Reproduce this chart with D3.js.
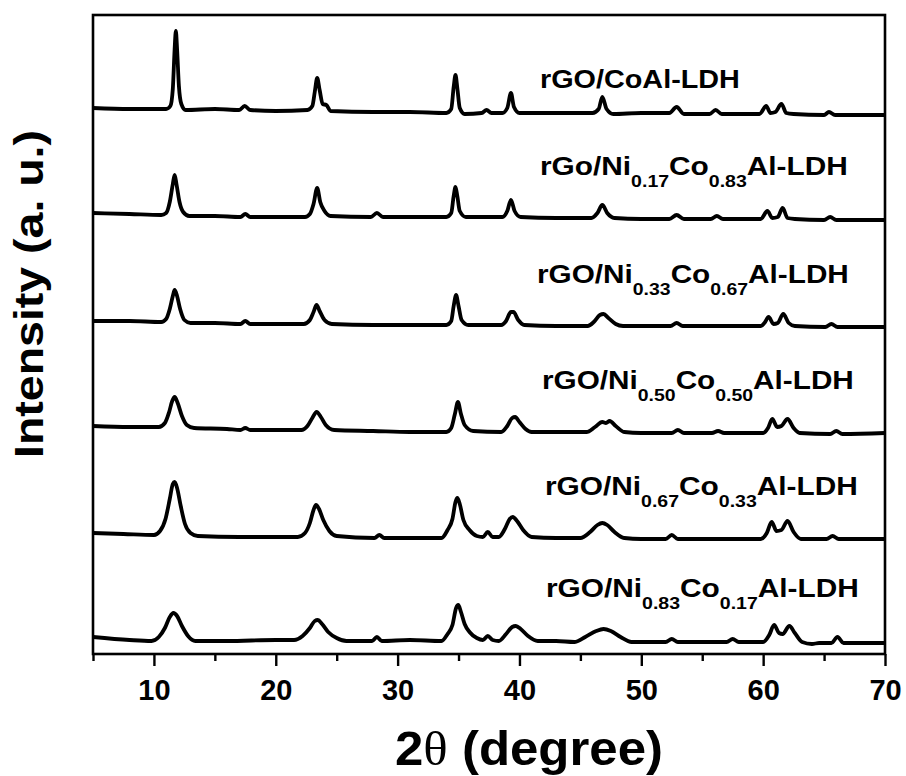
<!DOCTYPE html>
<html>
<head>
<meta charset="utf-8">
<script src="https://cdn.jsdelivr.net/npm/d3@7"></script>
<style>
  html, body { margin: 0; padding: 0; background: #fff; }
  svg { display: block; }
  text { font-family: "Liberation Sans", Arial, Helvetica, sans-serif; font-weight: bold; fill: #000; }
</style>
</head>
<body>
<svg id="chart" width="906" height="776"></svg>
<script>
// ---------------- DATA ----------------
// 2θ range and x tick labels
const xDomain = [5, 70];
const xMajorTicks = [10, 20, 30, 40, 50, 60, 70];
const xMinorTicks = [5, 15, 25, 35, 45, 55, 65];

// Series names (top to bottom); each label: [main, sub, main, sub, main]
const seriesLabels = [
  ["rGO/CoAl-LDH"],
  ["rGo/Ni", "0.17", "Co", "0.83", "Al-LDH"],
  ["rGO/Ni", "0.33", "Co", "0.67", "Al-LDH"],
  ["rGO/Ni", "0.50", "Co", "0.50", "Al-LDH"],
  ["rGO/Ni", "0.67", "Co", "0.33", "Al-LDH"],
  ["rGO/Ni", "0.83", "Co", "0.17", "Al-LDH"]
];

// Stacked intensities (a. u.), [2θ, intensity]
const seriesCoAl = [
  [5,546],[8,545],[11.0,545],[11.35,548],[11.55,565],[11.7,605],[11.8,623],[11.9,605],[12.05,568],[12.25,550],[12.6,544],
  [15,545],[17.0,544],[17.45,548],[17.9,544],[20,543],[22.6,544],[23.0,548],[23.2,562],[23.4,576],[23.6,564],[23.85,550],[24.15,549],[24.5,543],
  [28,542],[31,542],[34.0,541],[34.4,545],[34.6,567],[34.75,579],[34.9,566],[35.1,546],[35.5,540],[36.9,541],[37.3,544],[37.7,541],
  [38.6,541],[39.0,546],[39.3,561],[39.55,547],[40.0,541],[43,541],[46.0,541],[46.5,545],[46.8,557],[47.15,545],[47.7,540],
  [50,541],[52.3,541],[52.9,547],[53.5,540],[55.6,540],[56.1,544],[56.6,540],[59.7,540],[60.25,548],[60.6,541],[61.0,542],[61.5,550],[61.9,541],[62.5,540],
  [65.0,539],[65.4,542],[65.9,539],[70,539]
];
const seriesNi017 = [
  [5,441],[8,440],[10.6,439],[11.0,441],[11.3,452],[11.55,470],[11.7,479],[11.85,470],[12.1,452],[12.4,442],[12.9,438],
  [15,438],[17.1,437],[17.5,440],[17.9,437],[20,437],[22.4,437],[22.8,440],[23.1,450],[23.4,466],[23.65,452],[24.0,443],[24.5,438],
  [27.8,437],[28.3,441],[28.8,437],[31,437],[34.0,437],[34.4,441],[34.6,458],[34.75,467],[34.9,458],[35.1,443],[35.6,437],
  [38.6,437],[39.0,443],[39.3,454],[39.6,443],[40.1,437],[43,436],[45.9,436],[46.4,441],[46.8,449],[47.2,441],[47.8,436],
  [50,435],[52.3,435],[52.9,439],[53.5,435],[55.7,435],[56.2,438],[56.7,435],[59.8,435],[60.35,443],[60.75,436],[61.2,437],[61.6,446],[62.0,436],[62.6,435],
  [65,434],[65.5,437],[66,434],[70,434]
];
const seriesNi033 = [
  [5,333],[8,333],[10.6,332],[11.0,335],[11.3,345],[11.55,358],[11.7,364],[11.9,358],[12.15,345],[12.5,334],[13.0,331],
  [15,331],[17.1,330],[17.5,333],[17.9,330],[20,330],[22.3,330],[22.8,334],[23.1,342],[23.35,349],[23.6,343],[24.0,334],[24.6,330],
  [28,329],[31,329],[34.0,329],[34.4,333],[34.6,348],[34.8,359],[35.0,348],[35.25,334],[35.8,329],
  [38.5,329],[38.9,333],[39.3,342],[39.5,342],[39.9,334],[40.4,329],[43,328],[45.6,328],[46.1,332],[46.6,339],[46.9,340],[47.3,336],[47.9,330],[48.5,328],
  [50,328],[52.4,328],[52.9,331],[53.4,328],[56,328],[59.8,328],[60.1,331],[60.45,337],[60.85,330],[61.2,331],[61.65,340],[62.1,331],[62.6,328],
  [65.1,327],[65.6,330],[66.1,327],[70,327]
];
const seriesNi050 = [
  [5,228],[8,227],[10.4,227],[10.9,231],[11.25,242],[11.5,253],[11.7,257],[11.95,251],[12.3,238],[12.7,229],[13.3,226],
  [16,225],[17.1,224],[17.5,226],[17.9,224],[20,224],[22.1,224],[22.6,228],[23.0,236],[23.35,242],[23.7,237],[24.1,229],[24.8,224],
  [28,223],[31,222],[34.0,222],[34.4,226],[34.7,240],[34.95,252],[35.2,240],[35.5,229],[36.2,223],
  [38.5,222],[39.0,228],[39.4,236],[39.65,237],[40.0,232],[40.5,225],[41.0,222],[43,222],[45.5,222],[46.2,227],[46.8,232],[47.1,231],[47.4,233],[47.9,228],[48.6,222],
  [50,221],[52.5,221],[53.0,224],[53.5,221],[55.8,221],[56.3,223],[56.8,221],[60.0,221],[60.4,226],[60.75,235],[61.15,227],[61.5,228],[62.0,235],[62.5,226],[63.0,221],
  [65.5,220],[66.0,223],[66.5,220],[70,221]
];
const seriesNi067 = [
  [5,121],[7.5,120],[10.0,119],[10.5,123],[10.95,135],[11.3,155],[11.55,170],[11.7,172],[11.9,166],[12.2,148],[12.55,130],[13.0,121],[13.6,118],
  [17,117],[20,117],[21.8,117],[22.4,121],[22.8,131],[23.1,144],[23.3,149],[23.55,145],[23.9,134],[24.4,123],[25.0,118],
  [28.1,116],[28.5,119],[28.9,116],[31,116],[33.6,116],[34.1,124],[34.5,135],[34.75,152],[34.9,156],[35.1,150],[35.4,134],[35.9,124],[36.5,118],
  [37.0,117],[37.4,122],[37.8,117],[38.3,117],[38.8,125],[39.2,135],[39.45,137],[39.8,133],[40.3,124],[41.0,117],
  [43,116],[45.0,116],[45.8,122],[46.4,129],[46.8,131],[47.2,129],[47.8,122],[48.6,116],[50,115],[52.0,115],[52.5,119],[53.0,115],
  [56,115],[59.8,115],[60.3,121],[60.7,132],[61.1,123],[61.5,124],[62.0,133],[62.5,122],[63.1,115],[65.2,115],[65.7,118],[66.2,115],[70,115]
];
const seriesNi083 = [
  [5,17],[8,14],[9.8,13],[10.4,17],[10.9,26],[11.3,37],[11.6,41],[11.9,38],[12.3,28],[12.8,18],[13.4,13],
  [16,13],[20,14],[21.5,14],[22.2,18],[22.8,26],[23.2,33],[23.45,34],[23.8,30],[24.3,22],[25.0,16],[25.8,13],
  [27.9,13],[28.3,17],[28.7,13],[31,14],[33.6,13],[34.1,20],[34.5,29],[34.8,46],[34.98,49],[35.2,42],[35.5,30],[35.9,22],[36.5,16],
  [37.0,14],[37.4,18],[37.8,14],[38.3,13],[38.9,20],[39.4,27],[39.7,28],[40.1,25],[40.7,18],[41.5,13],
  [43,13],[44.5,12],[45.4,17],[46.3,23],[46.9,25],[47.5,23],[48.3,17],[49.2,12],[52.0,12],[52.5,15],[53.0,12],
  [57.0,12],[57.5,15],[58.0,12],[60.0,12],[60.5,19],[60.9,29],[61.3,21],[61.6,20],[62.15,28],[62.6,21],[63.2,12],
  [64.0,10],[64.6,11],[65.6,11],[66.1,17],[66.6,11],[70,11]
];
const allSeries = [seriesCoAl, seriesNi017, seriesNi033, seriesNi050, seriesNi067, seriesNi083];

// Axis titles
const xTitleMain = "2";
const xTitleTheta = "\u03B8";
const xTitleRest = " (degree)";
const yTitle = "Intensity (a. u.)";

// ---------------- LAYOUT ----------------
const svg = d3.select("#chart");
const plot = { left: 93, top: 15, right: 885, bottom: 654 };

const x = d3.scaleLinear().domain(xDomain).range([plot.left, plot.right]);
const y = d3.scaleLinear().domain([0, 640]).range([plot.bottom, plot.bottom - 640]);

// clip
svg.append("defs").append("clipPath").attr("id", "clip")
  .append("rect").attr("x", plot.left).attr("y", plot.top)
  .attr("width", plot.right - plot.left).attr("height", plot.bottom - plot.top);

// traces
const line = d3.line().x(d => x(d[0])).y(d => y(d[1])).curve(d3.curveMonotoneX);
svg.append("g").attr("clip-path", "url(#clip)")
  .selectAll("path").data(allSeries).join("path")
  .attr("d", line)
  .attr("fill", "none")
  .attr("stroke", "#000")
  .attr("stroke-width", 3.8)
  .attr("stroke-linejoin", "round")
  .attr("stroke-linecap", "round");

// frame
svg.append("rect")
  .attr("x", plot.left).attr("y", plot.top)
  .attr("width", plot.right - plot.left).attr("height", plot.bottom - plot.top)
  .attr("fill", "none").attr("stroke", "#000").attr("stroke-width", 2.6);

// x axis (major)
const gx = svg.append("g").attr("transform", `translate(0,${plot.bottom})`)
  .call(d3.axisBottom(x).tickValues(xMajorTicks).tickSize(12).tickSizeOuter(0).tickFormat(d3.format("d")));
gx.select(".domain").remove();
gx.selectAll(".tick line").attr("stroke", "#000").attr("stroke-width", 2.4);
gx.selectAll(".tick text")
  .attr("y", 46).attr("dy", null)
  .style("font-size", "29px").style("font-weight", "bold")
  .style("font-family", "'Liberation Sans', Arial, sans-serif").attr("fill", "#000");

// x axis (minor)
const gxm = svg.append("g").attr("transform", `translate(0,${plot.bottom})`)
  .call(d3.axisBottom(x).tickValues(xMinorTicks).tickSize(7).tickSizeOuter(0).tickFormat(""));
gxm.select(".domain").remove();
gxm.selectAll(".tick line").attr("stroke", "#000").attr("stroke-width", 2.4);

// helper: stretch text horizontally to a target width, left anchored at (tx, ty)
function fitText(sel, tx, ty, targetW) {
  const w = sel.node().getBBox().width;
  const s = targetW / w;
  sel.attr("transform", `translate(${tx},${ty}) scale(${s},1)`);
}

// series labels
const labelLeft = [540, 540, 537, 542, 545, 546];
const labelWidth = [200, 308, 312, 312, 313, 313];
seriesLabels.forEach((parts, i) => {
  const baseI = d3.median(allSeries[i].filter(d => d[0] >= 42 && d[0] <= 58), d => d[1]);
  const by = y(baseI) - (i === 0 ? 25 : 43);
  const t = svg.append("text").attr("x", 0).attr("y", 0).style("font-size", "26px");
  parts.forEach((p, k) => {
    const isSub = k % 2 === 1;
    const ts = t.append("tspan").text(p);
    if (isSub) ts.style("font-size", "17px").attr("dy", 12);
    else if (k > 0) ts.attr("dy", -12);
  });
  fitText(t, labelLeft[i], by, labelWidth[i]);
});

// x title
const xt = svg.append("text").attr("x", 0).attr("y", 0).style("font-size", "48px");
xt.append("tspan").text(xTitleMain);
xt.append("tspan").text(xTitleTheta)
  .style("font-family", "'Liberation Serif', 'Times New Roman', serif")
  .style("font-weight", "normal");
xt.append("tspan").text(xTitleRest);
fitText(xt, 395, 765, 268);

// y title
svg.append("text")
  .attr("transform", "translate(43,294) rotate(-90)")
  .attr("text-anchor", "middle")
  .style("font-size", "40px")
  .attr("textLength", 328)
  .attr("lengthAdjust", "spacingAndGlyphs")
  .text(yTitle);
</script>
</body>
</html>
